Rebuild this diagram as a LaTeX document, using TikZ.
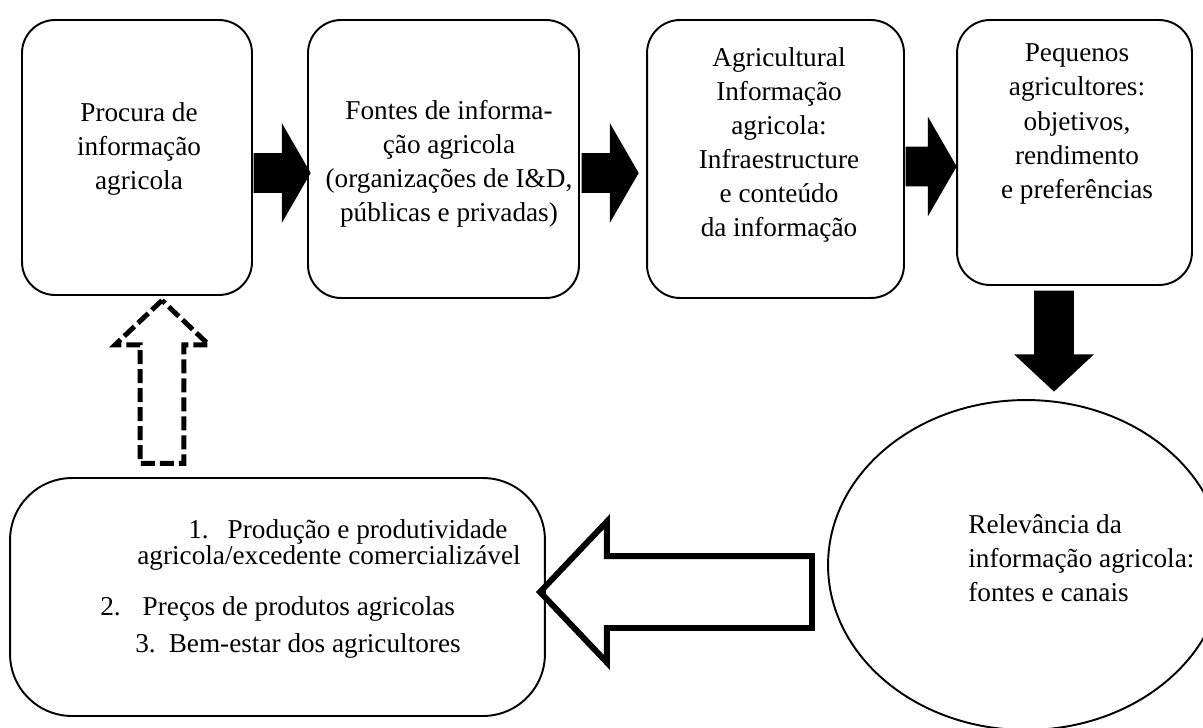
\documentclass[tikz,border=0pt]{standalone}
\usepackage{fontspec}
\setmainfont{Liberation Serif}
\usetikzlibrary{shapes.geometric,shapes.arrows,calc}

\begin{document}
\begin{tikzpicture}[x=0.02cm,y=-0.02cm,line join=round,
	caixa/.style={draw,line width=1.1pt,rounded corners=0.66cm,inner sep=0pt},
	texto/.style={align=center,inner sep=0pt,font=\fontsize{15.5}{19.4}\selectfont},
	seta/.style={single arrow,fill=black,anchor=tip,inner sep=0.39cm,
		single arrow head extend=0.6cm,single arrow tip angle=120},
	vazada/.style={single arrow,draw,anchor=tip,line join=miter,
		single arrow tip angle=93}]
	\useasboundingbox (0,0) rectangle (1203,727);
	\clip (0,0) rectangle (1203,727);
	% caixas
	\node[caixa,minimum width=4.6cm,minimum height=5.5cm] (procura) at (137,157.5) {};
	\node[caixa,minimum width=5.42cm,minimum height=5.56cm] (fontes) at (443.5,159) {};
	\node[caixa,minimum width=5.14cm,minimum height=5.56cm] (agricultural) at (775.5,159) {};
	\node[caixa,minimum width=4.7cm,minimum height=5.3cm] (pequenos) at (1074.5,152.5) {};
	\node[caixa,rounded corners=1.24cm,minimum width=10.7cm,minimum height=4.76cm] (lista) at (277.5,597) {};
	\node[draw,ellipse,line width=1.1pt,inner sep=0pt,minimum width=7.92cm,minimum height=6.6cm] (relevancia) at (1026,565) {};
	% textos
	\node[texto] (t1) at (139,149) {Procura de\\informação\\agricola};
	\node[texto] (t2) at (449,164) {Fontes de informa-\\ção agricola\\(organizações de I\&D,\\públicas e privadas)};
	\node[texto] (t3) at (779,145) {Agricultural\\Informação\\agricola:\\Infraestructure\\e conteúdo\\da informação};
	\node[texto] (t4) at (1077,124) {Pequenos\\agricultores:\\objetivos,\\rendimento\\e preferências};
	\node[texto,align=left,anchor=west] (t5) at (968,558) {Relevância da\\informação agricola:\\fontes e canais};
	\node[texto,anchor=base west] (i1) at (188,538) {1.\hspace{10.8pt}Produção e produtividade};
	\node[texto,anchor=base west] (i1b) at (137,564) {agricola/excedente comercializável};
	\node[texto,anchor=base west] (i2) at (100,615) {2.\hspace{12.5pt}Preços de produtos agricolas};
	\node[texto,anchor=base west] (i3) at (135,652) {3.\hspace{7.4pt}Bem-estar dos agricultores};
	% setas
	\foreach \nome/\para/\comp/\dx in {s1/fontes/1.14cm/4,s2/agricultural/1.14cm/-7,s3/pequenos/1.02cm/1}
		\node[seta,minimum height=\comp] (\nome) at ($(\para.west)+(\dx,14)$) {};
	\node[seta,minimum height=2.02cm,single arrow head extend=0.4cm,single arrow tip angle=94,shape border rotate=270] (s4) at ($(relevancia.north)+(28,-7)$) {};
	\node[vazada,line width=3.4pt,inner sep=0.66cm,single arrow head extend=0.69cm,minimum height=5.44cm,shape border rotate=180] (volta) at ($(lista.east)+(-10,-5)$) {};
	\node[vazada,line width=2.8pt,dash pattern=on 0.28cm off 0.1cm,inner sep=0.39cm,single arrow head extend=0.5cm,minimum height=3.26cm,shape border rotate=90] (procura2) at ($(procura.south)+(25,1)$) {};
\end{tikzpicture}
\end{document}
